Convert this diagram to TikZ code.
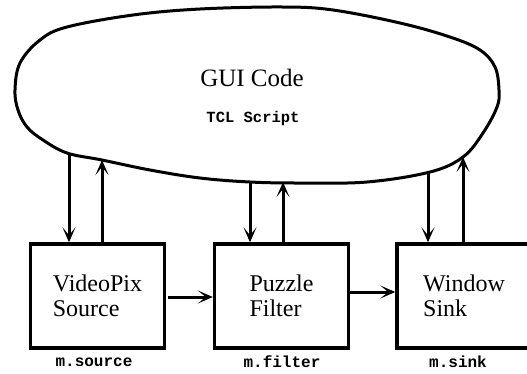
\documentclass[tikz,border=0pt]{standalone}
\usepackage{fontspec}
\setmainfont{Liberation Serif}
\setmonofont{Liberation Mono}
\usetikzlibrary{arrows.meta}
\begin{document}
\begin{tikzpicture}[x=1pt,y=-1pt,
  line width=3pt,
  arr/.style={-{Stealth[length=15pt,width=13pt,inset=8pt]}},
  module/.style={draw,line width=3.4pt,minimum width=134pt,minimum height=104pt,
    align=left,font=\fontsize{24}{25}\selectfont,inner sep=0pt},
  tag/.style={font=\fontsize{16}{16}\selectfont\ttfamily\bfseries},
  title/.style={font=\fontsize{25}{25}\selectfont},
  script/.style={font=\fontsize{15.5}{15}\selectfont\ttfamily\bfseries}]
\useasboundingbox (0,0) rectangle (527,373);
\clip (0,0) rectangle (527,373);

% GUI blob
\draw plot[smooth cycle, tension=0.6] coordinates {
  (283,7) (333,10) (400,23) (450,37) (480,50) (495,67) (499,90) (497,107)
  (483,133) (463,157) (430,172) (367,182) (300,183) (250,182) (200,178)
  (150,170) (102,160) (67,153) (43,140) (27,127) (18,110) (15,90) (20,63)
  (40,40) (67,27) (133,15) (200,9)};
\node[title] (gui) at (252,78) {GUI Code};
\node[script] (tcl) at (253,118) {TCL Script};

% attachment points on the blob outline
\coordinate (c1d) at (69,153);
\coordinate (c1u) at (102,160);
\coordinate (c2d) at (250,182);
\coordinate (c2u) at (283,182);
\coordinate (c3d) at (428,173);
\coordinate (c3u) at (463,157);

% modules
\node[module] (src) at (97.5,296) {VideoPix\\Source};
\node[module] (flt) at (281.5,296) {Puzzle\\Filter};
\node[module] (snk) at (464,296) {Window\\Sink};

\node[tag] (tsrc) at (94,362) {m.source};
\node[tag] (tflt) at (282,362) {m.filter};
\node[tag] (tsnk) at (458,362) {m.sink};

% control links
\draw[arr] (c1d) -- (src.north -| c1d);
\draw[arr] (src.north -| c1u) -- (c1u);
\draw[arr] (c2d) -- (flt.north -| c2d);
\draw[arr] (flt.north -| c2u) -- (c2u);
\draw[arr] (c3d) -- (snk.north -| c3d);
\draw[arr] (snk.north -| c3u) -- (c3u);

% data flow
\coordinate (d1) at (168,297);
\draw[arr] (d1) -- (flt.west |- d1);
\coordinate (d2) at (349,292);
\draw[arr] (flt.east |- d2) -- (snk.west |- d2);
\end{tikzpicture}
\end{document}
